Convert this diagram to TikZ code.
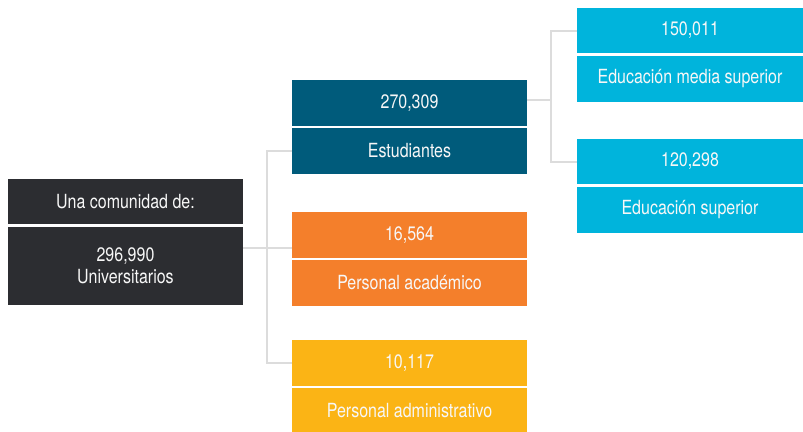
\documentclass[tikz,border=0pt]{standalone}
\usepackage{fontspec}
\setmainfont[FakeStretch=0.82]{TeX Gyre Heros}
\usepackage{xcolor}
\usetikzlibrary{positioning}

\definecolor{darkbox}{HTML}{2C2D31}
\definecolor{tealbox}{HTML}{005B7B}
\definecolor{orangebox}{HTML}{F47F2B}
\definecolor{yellowbox}{HTML}{FBB415}
\definecolor{cyanbox}{HTML}{00B4DC}
\definecolor{linkgray}{HTML}{DCDCDC}

\tikzset{
    cell/.style={anchor=north west, inner sep=0pt, outer sep=0pt,
        text=white!94!gray, font=\fontsize{19.5}{22}\selectfont, align=center},
    wide/.style={cell, minimum width=235, minimum height=46},
    narrow/.style={cell, minimum width=226, minimum height=46},
    link/.style={draw=linkgray, line width=2pt}
}

\begin{document}
\begin{tikzpicture}[x=1pt, y=-1pt]
        \useasboundingbox (0,0) rectangle (803,431);

        % community
        \node [wide, fill=darkbox, minimum height=45] (comTop) at (8,179) {Una comunidad de:};
        \node [wide, fill=darkbox, minimum height=78, below=3pt of comTop.south west, anchor=north west] (comNum) {296,990\\Universitarios};

        % second level
        \node [wide, fill=tealbox] (estNum) at (292,80) {270,309};
        \node [wide, fill=tealbox, below=2pt of estNum.south west, anchor=north west] (estLbl) {Estudiantes};

        \node [wide, fill=orangebox] (acaNum) at (292,212) {16,564};
        \node [wide, fill=orangebox, below=2pt of acaNum.south west, anchor=north west] (acaLbl) {Personal académico};

        \node [wide, fill=yellowbox] (admNum) at (292,340) {10,117};
        \node [wide, fill=yellowbox, below=2pt of admNum.south west, anchor=north west] (admLbl) {Personal administrativo};

        % third level
        \node [narrow, fill=cyanbox, minimum height=45] (emsNum) at (577,8) {150,011};
        \node [narrow, fill=cyanbox, below=3pt of emsNum.south west, anchor=north west] (emsLbl) {Educación media superior};

        \node [narrow, fill=cyanbox, minimum height=45] (esNum) at (577,139) {120,298};
        \node [narrow, fill=cyanbox, below=3pt of esNum.south west, anchor=north west] (esLbl) {Educación superior};

        % connectors
        \coordinate (trunk) at (267,248);
        \coordinate (fork) at (551,100);
        \draw [link] (comNum.east |- trunk) -- (trunk);
        \draw [link] (trunk) -- (trunk -| acaNum.west);
        \draw [link] (estLbl.west) -| (trunk) |- (admNum.west);
        \draw [link] (estNum.east |- fork) -- (fork);
        \draw [link] (emsNum.west) -| (fork) |- (esNum.west);
    \end{tikzpicture}
\end{document}
